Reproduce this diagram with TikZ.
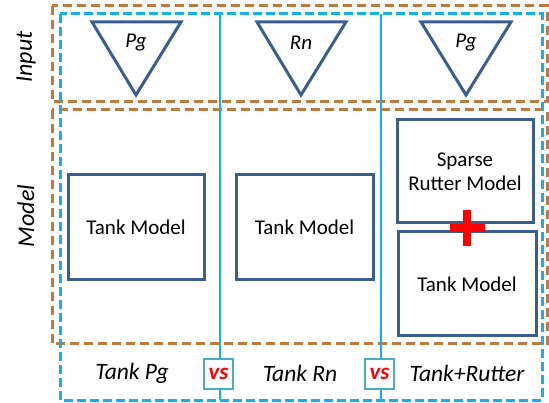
\documentclass[tikz,border=0pt]{standalone}
\usepackage{fontspec}
\setmainfont{Carlito}
\begin{document}
\begin{tikzpicture}[x=1pt,y=-1pt,
  orangedash/.style={draw=groupbrown,line width=3pt,dash pattern=on 9pt off 5pt},
  bluedash/.style={draw=lineblue,line width=3pt,dash pattern=on 9pt off 4pt},
  divider/.style={draw=lineblue,line width=2.5pt},
  modelbox/.style={draw=boxblue,line width=3pt,fill=white,inner sep=0pt,
    font=\fontsize{21}{25}\selectfont,align=center},
  inputtri/.style={draw=boxblue,line width=3pt,line join=miter,fill=white},
  tri/.style={font=\itshape\fontsize{21}{24}\selectfont},
  sidelabel/.style={rotate=90,font=\itshape\fontsize{24}{28}\selectfont},
  caselabel/.style={font=\itshape\fontsize{23.5}{27}\selectfont},
  vsbox/.style={draw=vsteal,line width=2.5pt,fill=white,minimum width=29pt,
    minimum height=30pt,inner sep=0pt,text=red,
    font=\bfseries\itshape\fontsize{23}{25}\selectfont},
  plusarm/.style={fill=red,draw=none}
]
\definecolor{groupbrown}{RGB}{192,122,62}
\definecolor{lineblue}{RGB}{20,176,236}
\definecolor{boxblue}{RGB}{60,94,140}
\definecolor{vsteal}{RGB}{75,172,198}

\useasboundingbox (0,0) rectangle (549,403);
\fill[white] (0,0) rectangle (549,403);

% row groups: input and model
\draw[orangedash] (52,6) rectangle (547,102);
\draw[orangedash] (52,110) rectangle (547,344);

% outer frame of the three cases and the dividers between them
\draw[bluedash] (60,14) rectangle (542,400);
\coordinate (d1top) at (220,14);
\coordinate (d1bot) at (220,400);
\coordinate (d2top) at (381,14);
\coordinate (d2bot) at (381,400);
\draw[divider] (d1top) -- (d1bot);
\draw[divider] (d2top) -- (d2bot);

% row labels
\node[sidelabel] (lblinput) at (26,57) {Input};
\node[sidelabel] (lblmodel) at (26,216) {Model};

% input triangles
\draw[inputtri] (92,22) -- (181,22) -- (136,95) -- cycle;
\node[tri] (in1) at (136,43) {Pg};
\draw[inputtri] (257,22) -- (346,22) -- (301,95) -- cycle;
\node[tri] (in2) at (301,43) {Rn};
\draw[inputtri] (421,22) -- (511,22) -- (466,95) -- cycle;
\node[tri] (in3) at (466,43) {Pg};

% model boxes
\node[modelbox,minimum width=136pt,minimum height=105pt] (tank1) at (136,227.5) {Tank Model};
\node[modelbox,minimum width=137pt,minimum height=105pt] (tank2) at (304.5,227.5) {Tank Model};
\node[modelbox,minimum width=136pt,minimum height=103pt] (rutter) at (465,171.5) {Sparse\\[-1pt]Rutter Model};
\node[modelbox,minimum width=138pt,minimum height=104pt] (tank3) at (467,284) {Tank Model};

% plus sign joining the two models
\coordinate (plus) at (467,228);
\fill[plusarm] ([xshift=-17.5pt,yshift=4pt]plus) rectangle ([xshift=17.5pt,yshift=-4pt]plus);
\fill[plusarm] ([xshift=-4pt,yshift=18pt]plus) rectangle ([xshift=4pt,yshift=-18pt]plus);

% case labels and comparisons
\node[caselabel] (case1) at (132,373) {Tank Pg};
\node[caselabel] (case2) at (300,373) {Tank Rn};
\node[caselabel] (case3) at (467,373) {Tank+Rutter};
\node[vsbox] (vs1) at (218.5,374) {vs};
\node[vsbox] (vs2) at (379.5,374) {vs};
\end{tikzpicture}
\end{document}
